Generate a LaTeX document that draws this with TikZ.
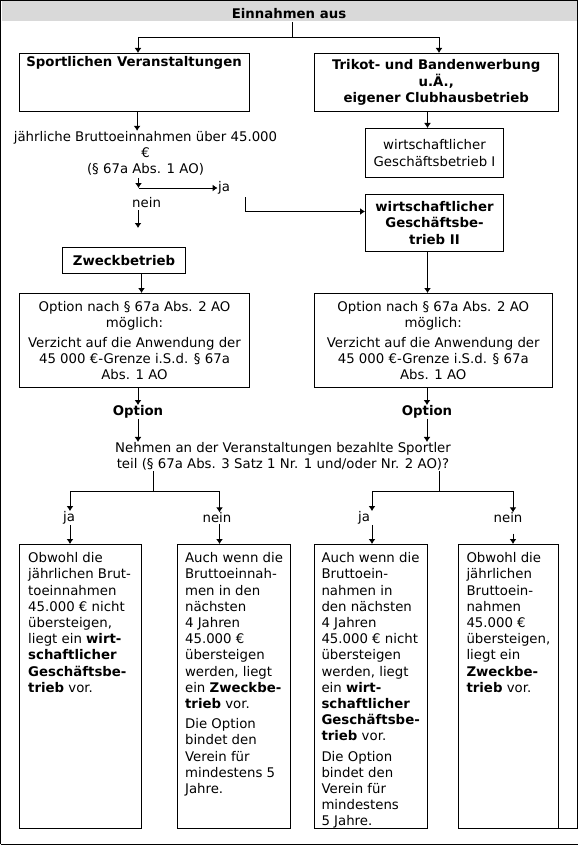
\documentclass[tikz,border=0pt]{standalone}
\usepackage{fontspec}
\setmainfont{DejaVu Sans}
\usetikzlibrary{arrows.meta}
\definecolor{hdrgray}{RGB}{217,217,217}
\begin{document}
\begin{tikzpicture}[x=1pt,y=-1pt,line width=1pt,>={Latex[length=5pt,width=7pt]},
  every node/.style={font=\fontsize{13.3}{16.2}\selectfont,inner sep=0pt},
  bnode/.style={font=\fontsize{13.3}{16.2}\selectfont\bfseries},
  box/.style={draw,anchor=north west,align=center},
  btxt/.style={anchor=north west,align=left}]
\useasboundingbox (0,0) rectangle (579,845);
\node[fill=hdrgray,anchor=north west,minimum width=575pt,minimum height=20pt,text height=14pt,bnode] (hdr) at (1,1) {Einnahmen aus};
\draw (0.5,844) -- (0.5,0.5) -- (577.5,0.5) -- (577.5,828) -- (558,828);
\draw (0.5,844) -- (577.5,844);
% obere Ebene
\node[box,minimum width=230pt,minimum height=58pt] (spo) at (19,53) {};
\node[bnode] (spotxt) at (134,63) {Sportlichen Veranstaltungen};
\node[box,bnode,minimum width=244.5pt,minimum height=58pt] (tri) at (313.5,53) {Trikot- und Bandenwerbung\\u.Ä.,\\eigener Clubhausbetrieb};
\coordinate (tsplit) at (292,38);
\coordinate (tl) at (138,38);
\coordinate (tr) at (439,38);
\draw (hdr.south -| tsplit) -- (tsplit);
\draw[->] (tsplit) -- (tl) -- (tl |- spo.north);
\draw[->] (tsplit) -- (tr) -- (tr |- tri.north);
\node[align=center] (q1) at (145.5,153.5) {jährliche Bruttoeinnahmen über 45.000\\€\\(§ 67a Abs. 1 AO)};
\draw[->] ([xshift=2.6pt]spo.south) -- ([xshift=2.6pt]spo.south |- q1.north);
\node[box,minimum width=138pt,minimum height=49pt] (wg1) at (365,128) {wirtschaftlicher\\Geschäftsbetrieb I};
\draw[->] ([xshift=-8.75pt]tri.south) -- ([xshift=-8.75pt]tri.south |- wg1.north);
% ja / nein
\node (jatop) at (224,188) {ja};
\coordinate (ja1) at (138.5,178);
\draw[->] (ja1) -- (ja1 |- jatop);
\draw[->] (ja1 |- jatop) -- (jatop.west);
\node[box,bnode,minimum width=138pt,minimum height=57pt] (wg2) at (365,194) {wirtschaftlicher\\Geschäftsbe-\\trieb II};
\coordinate (jb) at (245,197);
\draw[->] (jb) |- ([yshift=11.5pt]wg2.west);
\node (neintop) at (146.6,203) {nein};
\coordinate (nb) at (138,210);
\draw[->] (nb) -- (138,228);
\node[box,bnode,minimum width=123pt,minimum height=26pt] (zw) at (62,247) {Zweckbetrieb};
% Option
\node[box,minimum width=230pt,minimum height=94pt] (opt1) at (19,293) {Option nach § 67a Abs. 2 AO\\möglich:\\[4pt]Verzicht auf die Anwendung der\\45 000 €-Grenze i.S.d. § 67a\\Abs. 1 AO};
\node[box,minimum width=238.5pt,minimum height=94pt] (opt2) at (313.5,293) {Option nach § 67a Abs. 2 AO\\möglich:\\[4pt]Verzicht auf die Anwendung der\\45 000 €-Grenze i.S.d. § 67a\\Abs. 1 AO};
\draw[->] ([xshift=17.5pt]zw.south) -- ([xshift=17.5pt]zw.south |- opt1.north);
\draw[->] ([xshift=-7pt]wg2.south) -- ([xshift=-7pt]wg2.south |- opt2.north);
\node[bnode] (op1) at (138,412) {Option};
\node[bnode] (op2) at (427,412) {Option};
\node[align=center] (frage) at (283,456.5) {Nehmen an der Veranstaltungen bezahlte Sportler\\teil (§ 67a Abs. 3 Satz 1 Nr. 1 und/oder Nr. 2 AO)?};
\draw[->] (opt1.south -| op1) -- (op1.north);
\draw[->] (opt2.south -| op2) -- (op2.north);
\draw[->] (op1.south) -- (op1.south |- frage.north);
\draw[->] (op2.south) -- (op2.south |- frage.north);
% Verzweigung
\coordinate (sl) at (153,491);
\coordinate (sr) at (439,491);
\coordinate (bl1) at (70,491);
\coordinate (bl2) at (219.5,491);
\coordinate (br1) at (372,491);
\coordinate (br2) at (513,491);
\node (ja2) at (69,518) {ja};
\node (nein2) at (217,518) {nein};
\node (ja3) at (364,518) {ja};
\node (nein3) at (508,518) {nein};
\draw (frage.south -| sl) -- (sl);
\draw (frage.south -| sr) -- (sr);
\draw[->] (sl) -- (bl1) -- (bl1 |- ja2.north);
\draw[->] (sl) -- (bl2) -- (bl2 |- nein2.north);
\draw[->] (sr) -- (br1) -- (br1 |- ja3.north);
\draw[->] (sr) -- (br2) -- (br2 |- nein3.north);
% untere Ebene
\node[box,minimum width=122pt,minimum height=284pt] (b1) at (19,544) {};
\node[box,minimum width=113.5pt,minimum height=284pt] (b2) at (176.5,544) {};
\node[box,minimum width=113pt,minimum height=284pt] (b3) at (313.5,544) {};
\node[box,minimum width=100pt,minimum height=284pt] (b4) at (458,544) {};
\draw[->] (bl1 |- ja2.south) -- (bl1 |- b1.north);
\draw[->] (bl2 |- nein2.south) -- (bl2 |- b2.north);
\draw[->] (br1 |- ja3.south) -- (br1 |- b3.north);
\draw[->] ([yshift=-10pt]br2 |- nein3.south) -- (br2 |- b4.north);
\node[btxt] (t1) at (27.7,552) {Obwohl die\\jährlichen Brut-\\toeinnahmen\\45.000 € nicht\\übersteigen,\\liegt ein \textbf{wirt-}\\\textbf{schaftlicher}\\\textbf{Geschäftsbe-}\\\textbf{trieb} vor.};
\node[btxt] (t2) at (184.6,552) {Auch wenn die\\Bruttoeinnah-\\men in den\\nächsten\\4 Jahren\\45.000 €\\übersteigen\\werden, liegt\\ein \textbf{Zweckbe-}\\\textbf{trieb} vor.\\[4pt]Die Option\\bindet den\\Verein für\\mindestens 5\\Jahre.};
\node[btxt] (t3) at (321,552) {Auch wenn die\\Bruttoein-\\nahmen in\\den nächsten\\4 Jahren\\45.000 € nicht\\übersteigen\\werden, liegt\\ein \textbf{wirt-}\\\textbf{schaftlicher}\\\textbf{Geschäftsbe-}\\\textbf{trieb} vor.\\[4pt]Die Option\\bindet den\\Verein für\\mindestens\\5 Jahre.};
\node[btxt] (t4) at (466,552) {Obwohl die\\jährlichen\\Bruttoein-\\nahmen\\45.000 €\\übersteigen,\\liegt ein\\\textbf{Zweckbe-}\\\textbf{trieb} vor.};
\end{tikzpicture}
\end{document}
